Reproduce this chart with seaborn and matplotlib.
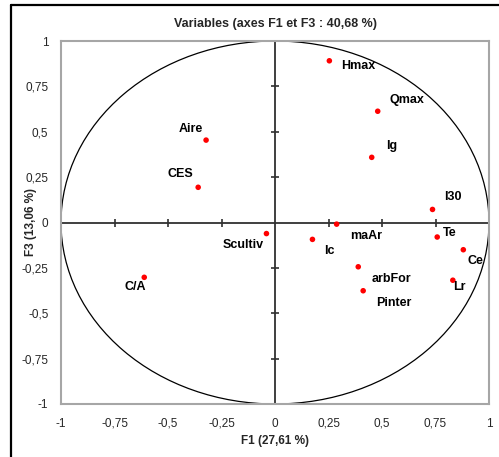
import matplotlib
matplotlib.use("Agg")
import matplotlib.pyplot as plt
import seaborn as sns
import pandas as pd
import numpy as np
from matplotlib.patches import Circle
from matplotlib.lines import Line2D

variables = ["Hmax", "Qmax", "Ig", "Aire", "CES", "I30", "maAr", "Scultiv",
             "Ic", "Te", "Ce", "C/A", "arbFor", "Lr", "Pinter"]
f1 = [0.254, 0.480, 0.452, -0.322, -0.359, 0.736, 0.288, -0.040,
      0.175, 0.758, 0.880, -0.611, 0.389, 0.831, 0.412]
f3 = [0.891, 0.613, 0.359, 0.454, 0.194, 0.072, -0.009, -0.061,
      -0.093, -0.080, -0.150, -0.302, -0.244, -0.318, -0.376]
# label offsets in pixels (dx right, dy up) and alignment
label_dx = [12, 12, 14, -3, -5, 12, 13, -3, 12, 6, 4, -20, 13, 0, 13]
label_dy = [-5, 11, 11, 11, 13, 12, -12, -11, -12, 4, -11, -10, -12, -7, -12]
label_ha = ["left", "left", "left", "right", "right", "left", "left", "right",
            "left", "left", "left", "left", "left", "left", "left"]
ticks = [-1, -0.75, -0.5, -0.25, 0, 0.25, 0.5, 0.75, 1]
tick_labels = ["-1", "-0,75", "-0,5", "-0,25", "0", "0,25", "0,5", "0,75", "1"]

df = pd.DataFrame({"var": variables, "F1": f1, "F3": f3})

sns.set_style("white")
plt.rcParams["font.family"] = ["Liberation Sans", "DejaVu Sans"]

fig = plt.figure(figsize=(4.99, 4.57), dpi=100)
ax = fig.add_axes([61 / 499, 1 - 404 / 457, 428 / 499, 363 / 457])

ax.set_xlim(-1, 1)
ax.set_ylim(-1, 1)

# unit circle
ax.add_patch(Circle((0, 0), 1, fill=False, edgecolor="black", lw=0.9, zorder=2))

# centre axes
ax.axhline(0, color="#303030", lw=1.3, zorder=2)
ax.axvline(0, color="#303030", lw=1.3, zorder=2)
inner = [t for t in ticks if t not in (-1, 0, 1)]
ax.plot(inner, [0] * len(inner), linestyle="none", marker="|", ms=6, mew=1.2,
        color="#303030", zorder=2)
ax.plot([0] * len(inner), inner, linestyle="none", marker="_", ms=6, mew=1.2,
        color="#303030", zorder=2)

sns.scatterplot(data=df, x="F1", y="F3", ax=ax, color="#ff0000", s=16,
                edgecolor="none", zorder=3, legend=False)

for v, x, y, dx, dy, ha in zip(variables, f1, f3, label_dx, label_dy, label_ha):
    ax.annotate(v, (x, y), xytext=(dx, dy), textcoords="offset pixels",
                ha=ha, va="center", fontsize=9, fontweight="bold", color="black",
                zorder=4)

ax.set_xticks(ticks)
ax.set_xticklabels(tick_labels)
ax.set_yticks(ticks)
ax.set_yticklabels(tick_labels)
ax.tick_params(axis="x", length=0, pad=10, labelsize=8.5)
ax.tick_params(axis="y", length=0, pad=9, labelsize=8.5)

for s in ax.spines.values():
    s.set_color("#a6a6a6")
    s.set_linewidth(1.5)

ax.set_title("Variables (axes F1 et F3 : 40,68 %)", fontsize=9, fontweight="bold",
             pad=10)
ax.set_xlabel("F1 (27,61 %)", fontsize=8.5, fontweight="bold")
ax.set_ylabel("F3 (13,06 %)", fontsize=8.5, fontweight="bold")
ax.xaxis.set_label_coords(0.5, -0.085)
ax.yaxis.set_label_coords(-0.056, 0.5)

# outer chart border (partly visible)
fig.add_artist(Line2D([11 / 499, 1], [1 - 5 / 457, 1 - 5 / 457],
                      transform=fig.transFigure, color="black", lw=1.6))
fig.add_artist(Line2D([11 / 499, 11 / 499], [0, 1 - 5 / 457],
                      transform=fig.transFigure, color="black", lw=1.6))

fig.savefig("out.png", dpi=100)
